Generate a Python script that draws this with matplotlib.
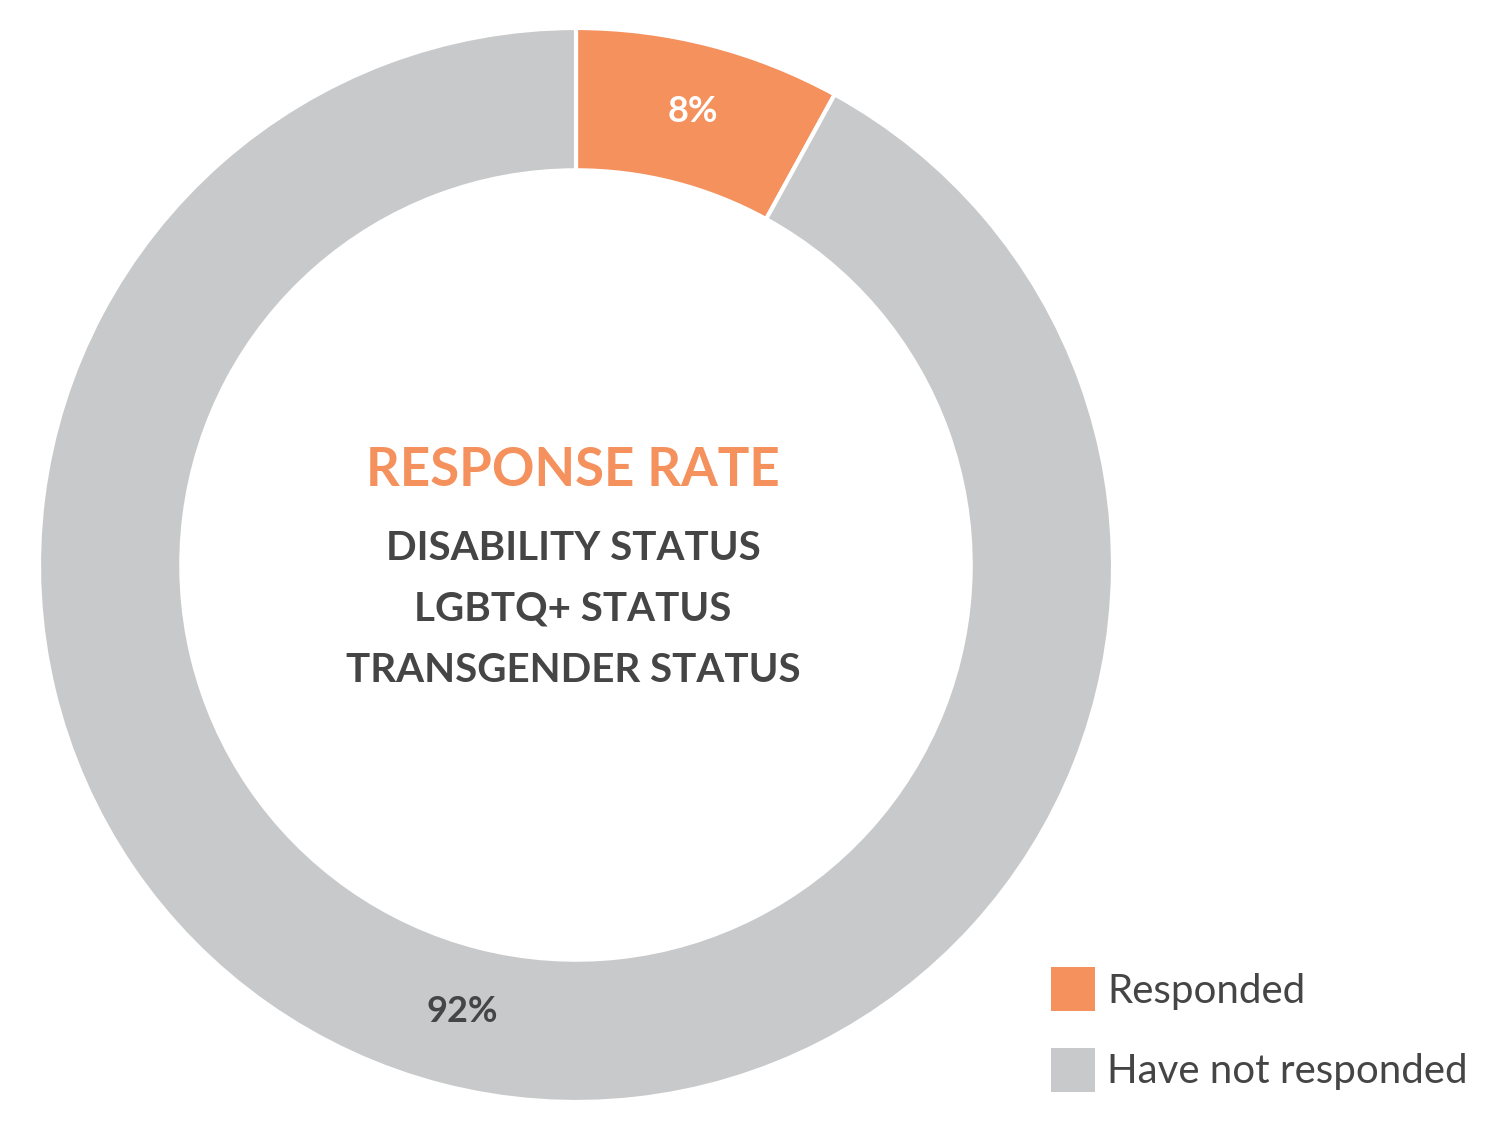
import matplotlib
matplotlib.use("Agg")
import matplotlib.pyplot as plt

# data
labels = ["Responded", "Have not responded"]
shares = [8, 92]
pct_labels = ["8%", "92%"]
title = "RESPONSE RATE"
subtitle_lines = ["DISABILITY STATUS", "LGBTQ+ STATUS", "TRANSGENDER STATUS"]

ORANGE = "#F4915D"
GRAY = "#C8C9CA"
DARK = "#454545"

plt.rcParams["font.family"] = ["Lato", "DejaVu Sans"]

W, H = 1500, 1137
fig = plt.figure(figsize=(W / 100, H / 100), dpi=100)
ax = fig.add_axes([0, 0, 1, 1])

cx, cy = 576, H - 565
outer = 537
wedges, _ = ax.pie(
    shares,
    colors=[ORANGE, GRAY],
    startangle=90,
    counterclock=False,
    center=(cx, cy),
    radius=outer,
    wedgeprops=dict(width=outer * 0.265, edgecolor="white", linewidth=3),
    frame=True,
)
ax.set_xlim(0, W)
ax.set_ylim(0, H)
ax.axis("off")

# slice labels
ax.text(693, H - 111, pct_labels[0], color="white", fontsize=26, fontweight="bold",
        ha="center", va="center")
ax.text(462, H - 1012, pct_labels[1], color=DARK, fontsize=26, fontweight="bold",
        ha="center", va="center")

# centre text
ax.text(573, H - 471, title, color=ORANGE, fontsize=38, fontweight="bold",
        ha="center", va="center")
for i, line in enumerate(subtitle_lines):
    ax.text(573, H - (548 + 61 * i), line, color=DARK, fontsize=29, fontweight="bold",
            ha="center", va="center")

leg = ax.legend(
    wedges, labels,
    loc="upper left",
    bbox_to_anchor=(1043 / W, 1 - 959 / H),
    bbox_transform=fig.transFigure,
    frameon=False,
    fontsize=29,
    handlelength=1.093,
    handleheight=1.30,
    handletextpad=0.3,
    labelspacing=0.92,
    borderpad=0.2,
    borderaxespad=0,
)
for t in leg.get_texts():
    t.set_color(DARK)
for h in leg.legend_handles:
    h.set_edgecolor("none")

fig.savefig("out.png", dpi=100)
